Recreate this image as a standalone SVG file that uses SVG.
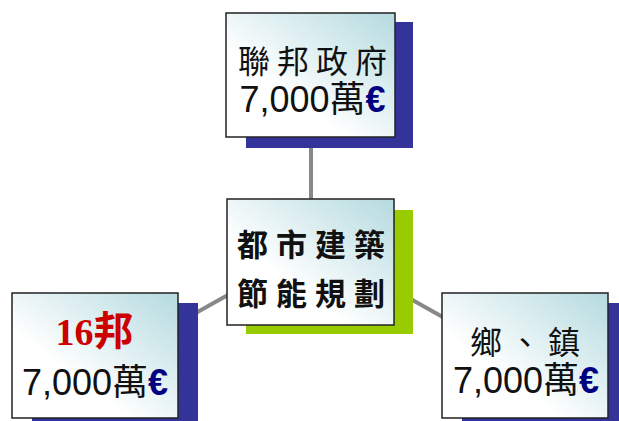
<svg xmlns="http://www.w3.org/2000/svg" width="619" height="421" viewBox="0 0 619 421">
<defs>
<linearGradient id="g" x1="1" y1="0" x2="0" y2="1">
<stop offset="0" stop-color="#b4dadf"/>
<stop offset="0.65" stop-color="#ffffff"/>
<stop offset="1" stop-color="#ffffff"/>
</linearGradient>
<style>
.box{fill:url(#g);stroke:#222;stroke-width:1.5}
.sh{fill:#333399}
.con{stroke:#888;stroke-width:4;fill:none}
.cj{font-family:"Noto Sans CJK TC","Noto Sans CJK SC",sans-serif;font-size:32px;fill:#111;text-anchor:middle}
.num{font-family:"Liberation Sans","Noto Sans CJK TC",sans-serif;font-size:36px;fill:#111;text-anchor:middle}
.eu{fill:#000080;font-weight:bold}
.bold{font-weight:bold;font-size:31px}
</style>
</defs>
<g id="connectors">
<line class="con" x1="311" y1="140" x2="311" y2="205"/>
<line class="con" x1="185" y1="319" x2="235" y2="291"/>
<line class="con" x1="400" y1="293" x2="448" y2="320"/>
</g>
<g id="federal">
<rect class="sh" x="246" y="22" width="167" height="126"/>
<rect class="box" x="226" y="13" width="169" height="124"/>
<text class="cj" x="312.5" y="73" textLength="149" lengthAdjust="spacing">聯邦政府</text>
<text class="num" x="312.5" y="112">7,000萬<tspan class="eu">€</tspan></text>
</g>
<g id="center">
<rect x="246" y="210" width="167" height="124" fill="#99cc00"/>
<rect class="box" x="227" y="199" width="167" height="126"/>
<text class="cj bold" x="311" y="256" textLength="148" lengthAdjust="spacing">都市建築</text>
<text class="cj bold" x="311" y="305" textLength="148" lengthAdjust="spacing">節能規劃</text>
</g>
<g id="states">
<rect class="sh" x="32" y="303" width="166" height="126"/>
<rect class="box" x="12" y="293" width="166" height="125"/>
<text x="94.5" y="345" text-anchor="middle" font-family="'Liberation Serif','Noto Sans CJK TC',serif" font-size="38" font-weight="bold" fill="#cc0000">16<tspan font-size="40">邦</tspan></text>
<text class="num" x="95" y="395">7,000萬<tspan class="eu">€</tspan></text>
</g>
<g id="towns">
<rect class="sh" x="462" y="303" width="166" height="126"/>
<rect class="box" x="442" y="293" width="166" height="125"/>
<text class="cj" x="525" y="354" textLength="110" lengthAdjust="spacing">鄉、鎮</text>
<text class="num" x="526" y="393">7,000萬<tspan class="eu">€</tspan></text>
</g>
</svg>
